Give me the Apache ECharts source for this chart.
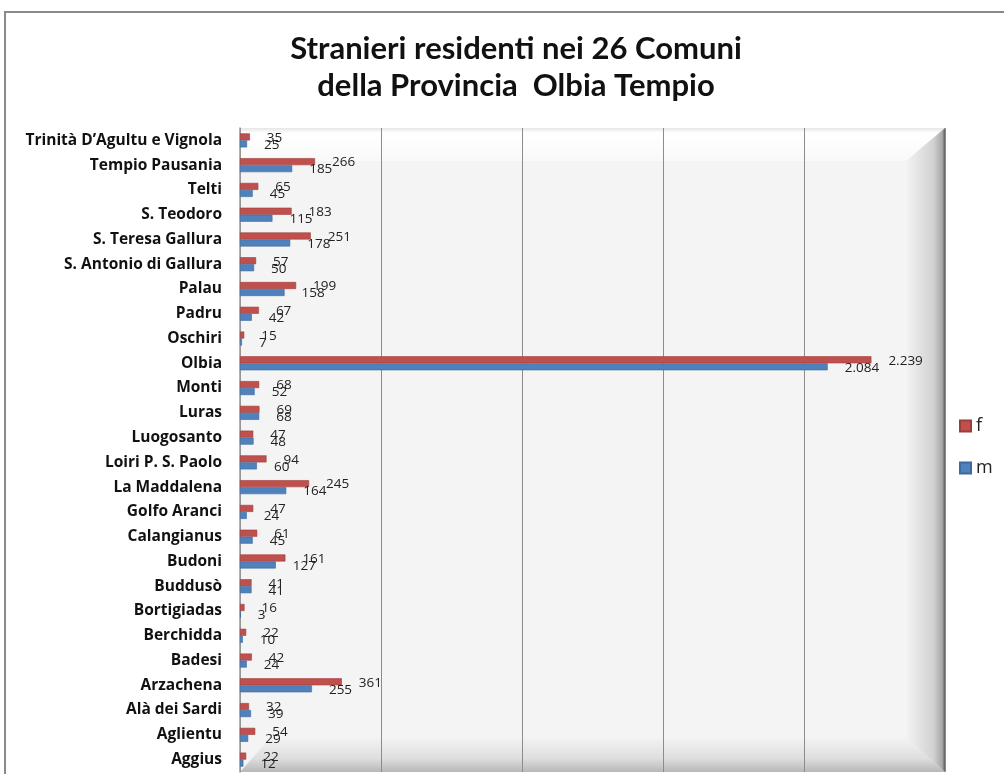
<!DOCTYPE html>
<html>
<head>
<meta charset="utf-8">
<title>Stranieri residenti</title>
<script src="https://cdn.jsdelivr.net/npm/echarts@6/dist/echarts.min.js"></script>
<style>
  html, body { margin: 0; padding: 0; background: #fff; }
  #chart { width: 1004px; height: 774px; }
</style>
</head>
<body>
<div id="chart"></div>
<script>
// comuni, dal basso verso l'alto (come nell'asse)
var comuni = ['Aggius', 'Aglientu', 'Alà dei Sardi', 'Arzachena', 'Badesi', 'Berchidda',
  'Bortigiadas', 'Buddusò', 'Budoni', 'Calangianus', 'Golfo Aranci', 'La Maddalena',
  'Loiri P. S. Paolo', 'Luogosanto', 'Luras', 'Monti', 'Olbia', 'Oschiri', 'Padru',
  'Palau', 'S. Antonio di Gallura', 'S. Teresa Gallura', 'S. Teodoro', 'Telti',
  'Tempio Pausania', 'Trinità D\u2019Agultu e Vignola'];
var femmine = [22, 54, 32, 361, 42, 22, 16, 41, 161, 61, 47, 245, 94, 47, 69, 68, 2239,
  15, 67, 199, 57, 251, 183, 65, 266, 35];
var maschi = [12, 29, 39, 255, 24, 10, 3, 41, 127, 45, 24, 164, 60, 48, 68, 52, 2084,
  7, 42, 158, 50, 178, 115, 45, 185, 25];
var legenda = ['f', 'm'];

var chart = echarts.init(document.getElementById('chart'));

// separatore delle migliaia all'italiana
function fmt(p) {
  return String(p.value).replace(/\B(?=(\d{3})+(?!\d))/g, '.');
}

var option = {
  backgroundColor: '#fff',
  title: {
    text: 'Stranieri residenti nei 26 Comuni\ndella Provincia  Olbia Tempio',
    left: 511,
    top: 25,
    textAlign: 'center',
    textStyle: { fontFamily: 'Lato', fontWeight: 'bold', fontSize: 31, lineHeight: 37, color: '#111' }
  },
  legend: {
    data: legenda,
    orient: 'vertical',
    left: 954,
    top: 412,
    itemWidth: 11,
    itemHeight: 11,
    itemGap: 24,
    icon: 'rect',
    textStyle: { fontFamily: 'Open Sans', fontSize: 18, color: '#222' }
  },
  grid: {
    left: 240, right: 59, top: 128, bottom: 2,
    show: true, backgroundColor: '#f4f4f4', borderWidth: 0
  },
  // cornice 3D stile Excel (solo decorazione)
  graphic: [
    { type: 'rect', shape: { x: 5, y: 12, width: 1020, height: 800 }, z: 0,
      style: { fill: null, stroke: '#8a8a8a', lineWidth: 2 }, silent: true },
    { type: 'polygon', z: 1, silent: true,
      shape: { points: [[240, 128], [945, 128], [906, 161], [240, 161]] },
      style: { fill: { type: 'linear', x: 0, y: 0, x2: 0, y2: 1,
        colorStops: [{ offset: 0, color: '#e6e6e6' }, { offset: 0.15, color: '#ffffff' }, { offset: 1, color: '#f9f9f9' }] } } },
    { type: 'polygon', z: 1, silent: true,
      shape: { points: [[240, 772], [270, 738], [906, 738], [945, 772]] },
      style: { fill: { type: 'linear', x: 0, y: 0, x2: 0, y2: 1,
        colorStops: [{ offset: 0, color: '#f3f3f3' }, { offset: 0.6, color: '#dedede' }, { offset: 1, color: '#b8b8b8' }] } } },
    { type: 'polygon', z: 1, silent: true,
      shape: { points: [[906, 161], [945, 128], [945, 772], [906, 738]] },
      style: { fill: { type: 'linear', x: 0, y: 0, x2: 1, y2: 0,
        colorStops: [{ offset: 0, color: '#f3f3f3' }, { offset: 0.7, color: '#d2d2d2' }, { offset: 0.93, color: '#a8a8a8' }, { offset: 1, color: '#5a5a5a' }] } } }
  ],
  xAxis: {
    type: 'value',
    min: 0,
    max: 2500,
    interval: 500,
    z: 3,
    axisLabel: { show: false },
    axisLine: { show: false },
    axisTick: { show: false },
    splitLine: { show: true, lineStyle: { color: '#8c8c8c', width: 1 } }
  },
  yAxis: {
    type: 'category',
    data: comuni,
    z: 3,
    axisLine: { show: true, lineStyle: { color: '#9a9a9a', width: 1.5 } },
    axisTick: { show: false },
    axisLabel: {
      margin: 18,
      fontFamily: 'Open Sans',
      fontWeight: 'bold',
      fontSize: 15.5,
      color: '#111'
    }
  },
  series: [
    {
      name: 'f',
      type: 'bar',
      data: femmine,
      z: 5,
      barWidth: 7,
      barGap: '0%',
      itemStyle: { color: '#c0504d', borderColor: '#9e3c39', borderWidth: 0.6 },
      label: { show: true, position: 'right', distance: 17, offset: [0, 1],
        formatter: fmt, fontFamily: 'Open Sans', fontSize: 13.5, color: '#222' }
    },
    {
      name: 'm',
      type: 'bar',
      data: maschi,
      z: 5,
      barWidth: 7,
      barGap: '0%',
      itemStyle: { color: '#4f81bd', borderColor: '#3d6a9e', borderWidth: 0.6 },
      label: { show: true, position: 'right', distance: 17, offset: [0, 1],
        formatter: fmt, fontFamily: 'Open Sans', fontSize: 13.5, color: '#222' }
    }
  ]
};

chart.setOption(option);
</script>
</body>
</html>
